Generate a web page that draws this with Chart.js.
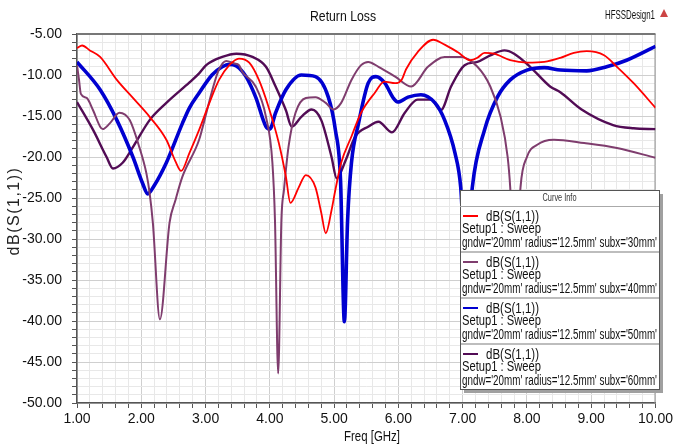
<!DOCTYPE html>
<html>
<head>
<meta charset="utf-8">
<script src="https://cdn.jsdelivr.net/npm/chart.js@4/dist/chart.umd.min.js"></script>
<style>
  html, body { margin: 0; padding: 0; background: #fff; }
  canvas { display: block; }
</style>
</head>
<body>
<canvas id="grafico" width="676" height="447"></canvas>
<script>
// frequency points (GHz) and dB(S(1,1))
const freq30 = [1.00, 1.08, 1.20, 1.36, 1.62, 1.87, 2.13, 2.39, 2.53, 2.62, 2.75, 2.90, 3.06, 3.21, 3.37, 3.52, 3.68, 3.83, 3.98, 4.14, 4.25, 4.32, 4.45, 4.56, 4.71, 4.80, 4.87, 4.96, 5.02, 5.11, 5.27, 5.42, 5.64, 5.78, 5.95, 6.05, 6.12, 6.30, 6.54, 6.72, 6.92, 7.12, 7.23, 7.34, 7.49, 7.74, 8.00, 8.27, 8.52, 8.73, 8.93, 9.20, 9.40, 9.66, 10.00];
const s11_30 = [-6.7, -6.4, -7.0, -7.8, -10.6, -12.8, -15.1, -17.9, -20.5, -21.7, -19.5, -16.7, -13.4, -10.6, -8.8, -8.0, -8.5, -10.6, -13.9, -18.3, -22.4, -25.6, -23.7, -22.2, -23.7, -26.8, -29.3, -26.5, -24.0, -20.7, -17.5, -14.6, -12.1, -10.8, -11.0, -10.6, -9.3, -7.2, -5.7, -6.3, -7.2, -8.2, -7.9, -7.3, -7.4, -8.2, -8.5, -8.4, -7.9, -7.3, -7.1, -7.6, -9.0, -11.0, -14.0];

const freq40 = [1.00, 1.03, 1.06, 1.15, 1.25, 1.36, 1.40, 1.51, 1.66, 1.82, 1.97, 2.08, 2.13, 2.18, 2.29, 2.44, 2.53, 2.64, 2.90, 3.00, 3.10, 3.20, 3.32, 3.45, 3.52, 3.57, 3.78, 3.94, 4.04, 4.08, 4.13, 4.18, 4.22, 4.29, 4.40, 4.56, 4.71, 4.87, 4.99, 5.11, 5.27, 5.42, 5.53, 5.69, 5.95, 6.20, 6.46, 6.72, 6.97, 7.23, 7.43, 7.59, 7.70, 7.74, 7.82, 7.90, 8.00, 8.16, 8.42, 8.89, 9.40, 10.00];
const s11_40 = [-8.8, -10.5, -12.3, -12.8, -14.3, -16.3, -16.6, -15.9, -14.6, -15.5, -18.8, -22.0, -24.4, -28.0, -39.8, -28.0, -25.3, -22.4, -17.9, -15.0, -12.0, -9.5, -8.3, -8.6, -8.8, -9.6, -11.4, -15.1, -20.7, -27.7, -46.4, -27.7, -24.0, -18.8, -14.6, -12.8, -12.7, -13.4, -14.2, -13.4, -10.6, -8.8, -8.4, -9.0, -10.2, -11.4, -9.0, -7.8, -7.8, -9.0, -11.4, -15.1, -20.0, -23.7, -36.0, -23.7, -20.0, -18.5, -17.9, -18.3, -18.9, -20.1];

const freq50 = [1.00, 1.36, 1.62, 1.87, 2.02, 2.10, 2.20, 2.39, 2.64, 2.75, 2.90, 3.10, 3.26, 3.37, 3.48, 3.63, 3.78, 3.94, 4.00, 4.09, 4.25, 4.49, 4.71, 4.91, 5.02, 5.10, 5.16, 5.21, 5.27, 5.38, 5.53, 5.65, 5.79, 5.92, 5.99, 6.15, 6.35, 6.57, 6.72, 6.88, 6.97, 7.05, 7.15, 7.34, 7.54, 7.74, 8.00, 8.27, 8.52, 8.93, 9.24, 9.55, 10.00];
const s11_50 = [-8.4, -11.8, -15.5, -20.0, -23.2, -24.5, -23.5, -20.7, -15.9, -14.0, -12.2, -10.0, -9.0, -8.7, -8.9, -10.2, -12.7, -16.3, -16.6, -14.6, -11.8, -10.0, -10.2, -12.7, -16.7, -22.8, -40.1, -27.7, -20.7, -15.9, -11.0, -10.2, -11.0, -12.8, -13.3, -12.7, -12.4, -13.4, -15.5, -19.5, -23.7, -34.0, -23.7, -16.7, -12.7, -10.6, -9.4, -9.1, -9.4, -9.5, -9.0, -8.2, -6.5];

const freq60 = [1.00, 1.25, 1.46, 1.56, 1.71, 1.87, 2.13, 2.39, 2.75, 2.90, 3.01, 3.26, 3.48, 3.73, 3.94, 4.09, 4.25, 4.34, 4.49, 4.65, 4.80, 4.96, 5.04, 5.18, 5.33, 5.53, 5.69, 5.90, 6.10, 6.30, 6.51, 6.66, 6.82, 7.03, 7.23, 7.43, 7.65, 7.80, 8.05, 8.36, 8.52, 8.85, 9.34, 9.66, 10.00];
const s11_60 = [-13.3, -16.7, -20.0, -21.4, -20.7, -18.8, -15.5, -13.4, -10.9, -9.8, -8.8, -7.8, -7.4, -7.8, -9.0, -11.4, -14.3, -16.3, -15.1, -14.2, -15.5, -20.0, -22.6, -20.4, -17.5, -16.3, -15.7, -17.0, -14.6, -13.0, -13.0, -14.3, -11.4, -8.8, -8.4, -7.6, -7.0, -7.4, -9.0, -11.4, -12.1, -14.2, -16.1, -16.5, -16.6];

const curveNames = ["30mm", "40mm", "50mm", "60mm"];
const curveColors = ["#ff0000", "#7f3d6e", "#0000d0", "#520c55"];
const curveWidths = [1.8, 2, 3.6, 2.4];

const fuente = "'Liberation Sans', Arial, sans-serif";

function puntos(xs, ys) {
    return xs.map((x, i) => ({ x: x, y: ys[i] }));
}

const series = [puntos(freq30, s11_30), puntos(freq40, s11_40), puntos(freq50, s11_50), puntos(freq60, s11_60)];

function esEntero(v) {
    return Math.abs(v - Math.round(v)) < 1e-6;
}

// title, frame, axis title and the "Curve Info" box
const decoracion = {
    id: "decoracion",
    beforeDatasetsDraw(chart) {
        const ctx = chart.ctx;
        const a = chart.chartArea;
        ctx.save();
        ctx.strokeStyle = "#9a9a9a";
        ctx.lineWidth = 1;
        ctx.beginPath();
        ctx.moveTo(a.right - 0.5, a.top);
        ctx.lineTo(a.right - 0.5, a.bottom);
        ctx.stroke();
        ctx.strokeStyle = "#777";
        ctx.lineWidth = 2;
        ctx.beginPath();
        ctx.moveTo(a.left, a.top);
        ctx.lineTo(a.right, a.top);
        ctx.stroke();
        ctx.restore();
    },
    afterDraw(chart) {
        const ctx = chart.ctx;
        ctx.save();
        ctx.fillStyle = "#111";
        ctx.textBaseline = "middle";
        ctx.textAlign = "center";
        ctx.font = "15px " + fuente;
        ctx.fillText("Return Loss", 343, 17, 66);
        ctx.font = "12px " + fuente;
        ctx.textAlign = "left";
        ctx.fillText("HFSSDesign1", 605, 16, 50);
        ctx.fillStyle = "#c44";
        ctx.beginPath();
        ctx.moveTo(664, 9);
        ctx.lineTo(668, 17);
        ctx.lineTo(660, 17);
        ctx.closePath();
        ctx.fill();

        ctx.fillStyle = "#111";
        ctx.textAlign = "center";
        ctx.font = "15px " + fuente;
        ctx.fillText("Freq [GHz]", 372, 437, 56);

        ctx.save();
        ctx.translate(15, 211);
        ctx.rotate(-Math.PI / 2);
        ctx.font = "16px " + fuente;
        ctx.letterSpacing = "1.5px";
        ctx.fillStyle = "#222";
        ctx.fillText("dB(S(1,1))", 0, 0);
        ctx.restore();

        // legend box
        const bx = 460, by = 190, bw = 199, bh = 199;
        ctx.fillStyle = "#a0a0a0";
        ctx.fillRect(bx + 4, by + 4, bw, bh);
        ctx.fillStyle = "#fff";
        ctx.fillRect(bx, by, bw, bh);
        ctx.strokeStyle = "#555";
        ctx.lineWidth = 1;
        ctx.strokeRect(bx + 0.5, by + 0.5, bw, bh);

        ctx.fillStyle = "#333";
        ctx.font = "10px " + fuente;
        ctx.textAlign = "center";
        ctx.fillText("Curve Info", bx + bw / 2, 198, 34);
        ctx.strokeStyle = "#aaa";
        ctx.beginPath();
        ctx.moveTo(bx, 206.5);
        ctx.lineTo(bx + bw, 206.5);
        ctx.stroke();

        ctx.textAlign = "left";
        curveNames.forEach((nombre, i) => {
            const s = 206 + 46 * i;
            ctx.strokeStyle = curveColors[i];
            ctx.lineWidth = 2;
            ctx.beginPath();
            ctx.moveTo(463, s + 10);
            ctx.lineTo(478, s + 10);
            ctx.stroke();
            ctx.fillStyle = "#111";
            ctx.font = "14px " + fuente;
            ctx.fillText("dB(S(1,1))", 486, s + 11, 53);
            ctx.fillText("Setup1 : Sweep", 462, s + 23, 79);
            ctx.fillText("gndw='20mm' radius='12.5mm' subx='" + nombre + "'", 462, s + 37, 195);
            if (i < 3) {
                ctx.strokeStyle = "#bdbdbd";
                ctx.lineWidth = 2;
                ctx.beginPath();
                ctx.moveTo(bx + 1, s + 46);
                ctx.lineTo(bx + bw, s + 46);
                ctx.stroke();
            }
        });
        ctx.restore();
    }
};

const ctx = document.getElementById("grafico").getContext("2d");
new Chart(ctx, {
    type: "line",
    data: {
        datasets: series.map((pts, i) => ({
            label: "dB(S(1,1)) subx=" + curveNames[i],
            data: pts,
            borderColor: curveColors[i],
            borderWidth: curveWidths[i],
            pointRadius: 0,
            fill: false,
            cubicInterpolationMode: "monotone"
        }))
    },
    options: {
        responsive: false,
        animation: false,
        devicePixelRatio: 1,
        layout: { padding: { top: 34, right: 17, left: 0, bottom: 0 } },
        plugins: {
            legend: { display: false },
            tooltip: { enabled: false }
        },
        scales: {
            x: {
                type: "linear",
                min: 1,
                max: 10,
                afterFit: s => { s.height = 44; },
                border: { color: "#555", width: 1.5 },
                grid: {
                    color: c => esEntero(c.tick.value) ? "#cfcfcf" : "#e8e8e8",
                    tickColor: "#555",
                    tickLength: 5
                },
                ticks: {
                    stepSize: 0.2,
                    autoSkip: false,
                    maxRotation: 0,
                    padding: 3,
                    color: "#111",
                    font: { family: fuente, size: 14 },
                    callback: v => esEntero(v) ? v.toFixed(2) : ""
                }
            },
            y: {
                min: -50,
                max: -5,
                afterFit: s => { s.width = 77; },
                border: { color: "#555", width: 1.5 },
                grid: {
                    color: c => c.tick.value % 5 === 0 ? "#cfcfcf" : "#e8e8e8",
                    tickColor: "#555",
                    tickLength: 5
                },
                ticks: {
                    stepSize: 1,
                    autoSkip: false,
                    padding: 10,
                    color: "#111",
                    font: { family: fuente, size: 14 },
                    callback: v => v % 5 === 0 ? v.toFixed(2) : ""
                }
            }
        }
    },
    plugins: [decoracion]
});
</script>
</body>
</html>
